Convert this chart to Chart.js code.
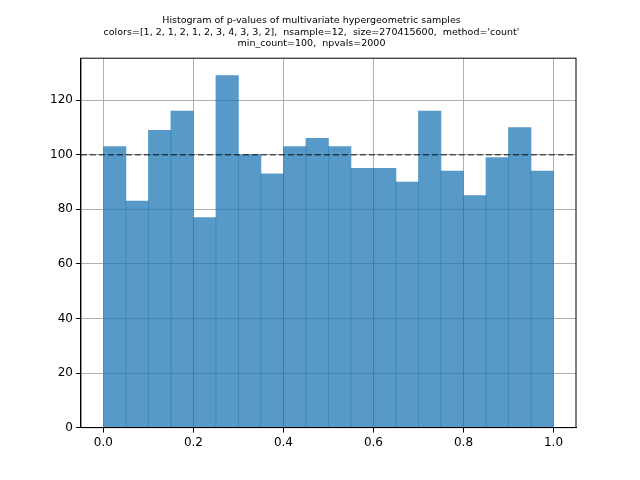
<!DOCTYPE html>
<html>
<head>
<meta charset="utf-8">
<script src="https://cdn.jsdelivr.net/npm/chart.js@4"></script>
<style>
  html, body { margin: 0; padding: 0; background: #fff; }
  #wrap { width: 640px; height: 480px; }
</style>
</head>
<body>
<div id="wrap"><canvas id="histChart" width="640" height="480"></canvas></div>
<script>
const binWidth = 0.05
const binCenters = [0.025, 0.075, 0.125, 0.175, 0.225, 0.275, 0.325, 0.375, 0.425, 0.475,
  0.525, 0.575, 0.625, 0.675, 0.725, 0.775, 0.825, 0.875, 0.925, 0.975]
const counts = [103, 83, 109, 116, 77, 129, 100, 93, 103, 106,
  103, 95, 95, 90, 116, 94, 85, 99, 110, 94]
const expectedCount = 100
const xTicks = [0, 0.2, 0.4, 0.6, 0.8, 1.0]
const yTicks = [0, 20, 40, 60, 80, 100, 120]
const titleLines = [
  'Histogram of p-values of multivariate hypergeometric samples',
  "colors=[1, 2, 1, 2, 1, 2, 3, 4, 3, 3, 2],  nsample=12,  size=270415600,  method='count'",
  'min_count=100,  npvals=2000'
]

// dashed expected-count line plus the axes frame, on top of the bars
const overlay = {
  id: 'overlay',
  afterDatasetsDraw: chart => {
    const { ctx, chartArea, scales } = chart
    const y = scales.y.getPixelForValue(expectedCount)
    ctx.save()
    ctx.strokeStyle = 'rgba(0,0,0,0.6)'
    ctx.lineWidth = 1.5
    ctx.setLineDash([6, 3])
    ctx.beginPath()
    ctx.moveTo(chartArea.left, y)
    ctx.lineTo(chartArea.right, y)
    ctx.stroke()
    ctx.setLineDash([])
    ctx.strokeStyle = '#000'
    ctx.lineWidth = 1
    ctx.strokeRect(chartArea.left, chartArea.top,
      chartArea.right - chartArea.left, chartArea.bottom - chartArea.top)
    ctx.restore()
  }
}

const gridColor = '#b0b0b0'
new Chart(document.getElementById('histChart').getContext('2d'), {
  type: 'bar',
  data: {
    datasets: [{
      data: binCenters.map((x, i) => ({ x: x, y: counts[i] })),
      backgroundColor: 'rgba(31,119,180,0.75)',
      borderWidth: 0,
      barPercentage: 1,
      categoryPercentage: 1
    }]
  },
  options: {
    responsive: false,
    animation: false,
    layout: { padding: { left: 47, right: 64, top: 0, bottom: 27 } },
    plugins: {
      legend: { display: false },
      tooltip: { enabled: false },
      title: {
        display: true,
        text: titleLines,
        color: '#000',
        font: { family: 'DejaVu Sans', size: 9.5, weight: 'normal' },
        lineHeight: 1.15,
        padding: { top: 15, bottom: 9 }
      }
    },
    scales: {
      x: {
        type: 'linear',
        min: -0.05,
        max: 1.05,
        offset: false,
        afterBuildTicks: s => { s.ticks = xTicks.map(v => ({ value: v })) },
        ticks: {
          color: '#000',
          font: { family: 'DejaVu Sans', size: 12 },
          callback: v => v.toFixed(1),
          maxRotation: 0
        },
        grid: { color: gridColor, tickColor: '#000', tickLength: 5, offset: false },
        border: { color: '#000' }
      },
      y: {
        min: 0,
        max: 135.4,
        afterBuildTicks: s => { s.ticks = yTicks.map(v => ({ value: v })) },
        ticks: { color: '#000', font: { family: 'DejaVu Sans', size: 12 } },
        grid: { color: gridColor, tickColor: '#000', tickLength: 5 },
        border: { color: '#000' }
      }
    }
  },
  plugins: [overlay]
})
</script>
</body>
</html>
